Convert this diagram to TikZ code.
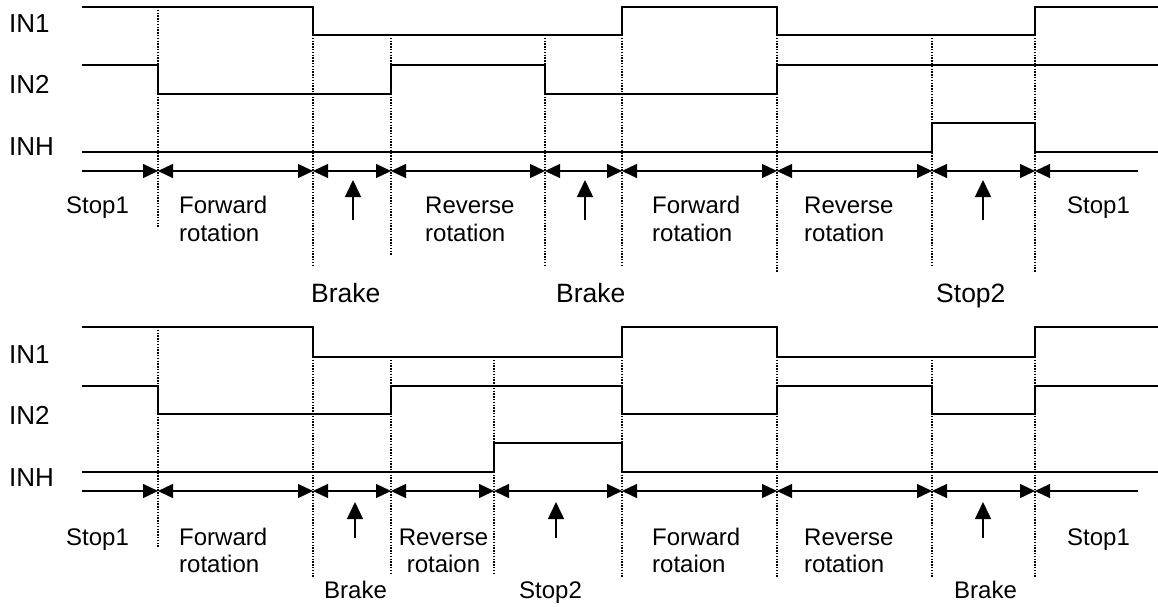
\documentclass[tikz,border=0pt]{standalone}
\usepackage{fontspec}
\setmainfont{Liberation Sans}
\usetikzlibrary{arrows.meta}
\newcommand\szmain{\fontsize{24}{28}\selectfont}
\newcommand\szbig{\fontsize{26.5}{30}\selectfont}
\newcommand\szin{\fontsize{26}{30}\selectfont}
\begin{document}
\begin{tikzpicture}[x=1pt,y=-1pt,
  sig/.style={line width=1.8pt,line join=miter},
  gridline/.style={line width=1.2pt,dash pattern=on 1.4pt off 1.4pt},
  span/.style={line width=1.3pt},
  uparrow/.style={line width=1.5pt,-{Triangle[length=17pt,width=16pt]}},
  lbl/.style={anchor=base west,inner sep=0pt,font=\szmain},
  lblc/.style={anchor=base,inner sep=0pt,font=\szmain},
  inlbl/.style={anchor=base west,inner sep=0pt,font=\szin},
  Tri/.tip={Triangle[length=15pt,width=14pt]}]
\useasboundingbox[fill=white] (0,0) rectangle (1158,606);

% ---------- TOP DIAGRAM ----------
\foreach \x/\ya/\yb in {158/7/227,313/35/265,391/35/255,545/35/265,622/35/265,777/35/272,932/35/265,1035/35/272}
  \draw[gridline] (\x,\ya) -- (\x,\yb);

\draw[sig] (82,7) -- (313,7) -- (313,35) -- (622,35) -- (622,7) -- (777,7) -- (777,35) -- (1035,35) -- (1035,7) -- (1158,7);
\draw[sig] (82,65) -- (158,65) -- (158,94) -- (391,94) -- (391,65) -- (545,65) -- (545,94) -- (777,94) -- (777,65) -- (1158,65);
\draw[sig] (82,152) -- (932,152) -- (932,123) -- (1035,123) -- (1035,152) -- (1158,152);

\node[inlbl] (tin1) at (9,32) {IN1};
\node[inlbl] (tin2) at (9,93) {IN2};
\node[inlbl] (tinh) at (9,155) {INH};

\foreach \n/\x in {0/82,1/158,2/313,3/391,4/545,5/622,6/777,7/932,8/1035,9/1138}
  \coordinate (ta\n) at (\x,171);
\draw[span,-Tri] (ta0) -- (ta1);
\foreach \i/\j in {1/2,2/3,3/4,4/5,5/6,6/7,7/8}
  \draw[span,Tri-Tri] (ta\i) -- (ta\j);
\draw[span,Tri-] (ta8) -- (ta9);

\coordinate (tu1s) at (353,220); \coordinate (tu1e) at (353,180);
\coordinate (tu2s) at (585,220); \coordinate (tu2e) at (585,180);
\coordinate (tu3s) at (983,220); \coordinate (tu3e) at (983,180);
\draw[uparrow] (tu1s) -- (tu1e);
\draw[uparrow] (tu2s) -- (tu2e);
\draw[uparrow] (tu3s) -- (tu3e);

\node[lbl] (tstop1a) at (66,213) {Stop1};
\node[lbl] (tfwd1a) at (179,213) {Forward};
\node[lbl] (tfwd1b) at (179,241) {rotation};
\node[lbl] (trev1a) at (425,213) {Reverse};
\node[lbl] (trev1b) at (425,241) {rotation};
\node[lbl] (tfwd2a) at (652,213) {Forward};
\node[lbl] (tfwd2b) at (652,241) {rotation};
\node[lbl] (trev2a) at (804,213) {Reverse};
\node[lbl] (trev2b) at (804,241) {rotation};
\node[lbl] (tstop1b) at (1067,213) {Stop1};
\node[lbl,font=\szbig] (tbrk1) at (311,302) {Brake};
\node[lbl,font=\szbig] (tbrk2) at (556,302) {Brake};
\node[lbl,font=\szbig] (tstop2) at (936,302) {Stop2};

% ---------- BOTTOM DIAGRAM ----------
\foreach \x/\ya/\yb in {158/327/548,313/357/578,391/357/575,494/357/575,622/357/578,777/357/577,932/357/578,1035/357/577}
  \draw[gridline] (\x,\ya) -- (\x,\yb);

\draw[sig] (82,327) -- (313,327) -- (313,357) -- (622,357) -- (622,327) -- (777,327) -- (777,357) -- (1035,357) -- (1035,327) -- (1158,327);
\draw[sig] (82,386) -- (158,386) -- (158,414) -- (391,414) -- (391,386) -- (622,386) -- (622,414) -- (777,414) -- (777,386) -- (932,386) -- (932,414) -- (1035,414) -- (1035,386) -- (1158,386);
\draw[sig] (82,472) -- (494,472) -- (494,443) -- (622,443) -- (622,472) -- (1158,472);

\node[inlbl] (bin1) at (9,363) {IN1};
\node[inlbl] (bin2) at (9,424) {IN2};
\node[inlbl] (binh) at (9,486) {INH};

\foreach \n/\x in {0/82,1/158,2/313,3/391,4/494,5/622,6/777,7/932,8/1035,9/1138}
  \coordinate (ba\n) at (\x,491);
\draw[span,-Tri] (ba0) -- (ba1);
\foreach \i/\j in {1/2,2/3,3/4,4/5,5/6,6/7,7/8}
  \draw[span,Tri-Tri] (ba\i) -- (ba\j);
\draw[span,Tri-] (ba8) -- (ba9);

\coordinate (bu1s) at (355,538); \coordinate (bu1e) at (355,502);
\coordinate (bu2s) at (556,538); \coordinate (bu2e) at (556,502);
\coordinate (bu3s) at (983,538); \coordinate (bu3e) at (983,502);
\draw[uparrow] (bu1s) -- (bu1e);
\draw[uparrow] (bu2s) -- (bu2e);
\draw[uparrow] (bu3s) -- (bu3e);

\node[lbl] (bstop1a) at (66,545) {Stop1};
\node[lbl] (bfwd1a) at (179,545) {Forward};
\node[lbl] (bfwd1b) at (179,572) {rotation};
\node[lblc] (brev1a) at (443.5,545) {Reverse};
\node[lblc] (brev1b) at (443.5,572) {rotaion};
\node[lbl] (bfwd2a) at (652,545) {Forward};
\node[lbl] (bfwd2b) at (652,572) {rotaion};
\node[lbl] (brev2a) at (804,545) {Reverse};
\node[lbl] (brev2b) at (804,572) {rotation};
\node[lbl] (bstop1b) at (1067,545) {Stop1};
\node[lbl] (bbrk1) at (324,598) {Brake};
\node[lbl] (bstop2) at (519,598) {Stop2};
\node[lbl] (bbrk2) at (954,598) {Brake};
\end{tikzpicture}
\end{document}
